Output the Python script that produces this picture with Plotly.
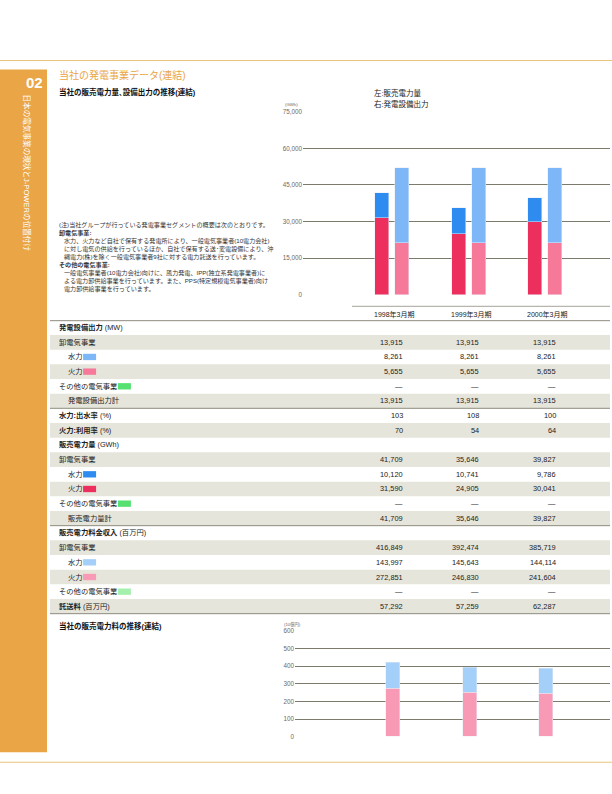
import plotly.graph_objects as go

# ---------------- data ----------------
years = ["1998年3月期", "1999年3月期", "2000年3月期"]

cap_wholesale = [13915, 13915, 13915]
cap_hydro = [8261, 8261, 8261]
cap_thermal = [5655, 5655, 5655]
cap_other = [None, None, None]
cap_total = [13915, 13915, 13915]

hydro_flow_rate = [103, 108, 100]
thermal_util_rate = [70, 54, 64]

sales_wholesale = [41709, 35646, 39827]
sales_hydro = [10120, 10741, 9786]
sales_thermal = [31590, 24905, 30041]
sales_other = [None, None, None]
sales_total = [41709, 35646, 39827]

rev_wholesale = [416849, 392474, 385719]
rev_hydro = [143997, 145643, 144114]
rev_thermal = [272851, 246830, 241604]
rev_other = [None, None, None]
wheeling_fee = [57292, 57259, 62287]

top_ticks = [0, 15000, 30000, 45000, 60000, 75000]
bottom_ticks = [0, 100, 200, 300, 400, 500, 600]

# ---------------- helpers ----------------
W, H = 612, 794
FONT = "Liberation Sans, Noto Sans CJK JP"


def px(x):
    return x / W


def py(y):
    return 1 - y / H


ORANGE = "#E9A546"
LINE_Y = "#E8C47C"
GRID = "#7C7A6A"
BAND = "#E6E5DB"
TLINE = "#8E8C7E"

C_SALES_THERMAL = "#EC2F5C"
C_SALES_HYDRO = "#2E8BF0"
C_CAP_THERMAL = "#F7799A"
C_CAP_HYDRO = "#7DB7F7"
C_REV_THERMAL = "#F899B6"
C_REV_HYDRO = "#A3CFF9"
C_OTHER = "#55E070"
C_OTHER_LIGHT = "#A6F0AE"

fig = go.Figure()

# ---------------- top chart ----------------
bw = 0.185
fig.add_trace(go.Bar(x=years, y=sales_thermal, marker_color=C_SALES_THERMAL,
                     offset=-0.22, width=bw, xaxis="x", yaxis="y", showlegend=False))
fig.add_trace(go.Bar(x=years, y=sales_hydro, marker_color=C_SALES_HYDRO,
                     offset=-0.22, width=bw, xaxis="x", yaxis="y", showlegend=False))
fig.add_trace(go.Bar(x=years, y=cap_thermal, marker_color=C_CAP_THERMAL,
                     offset=0.04, width=bw, xaxis="x", yaxis="y2", showlegend=False))
fig.add_trace(go.Bar(x=years, y=cap_hydro, marker_color=C_CAP_HYDRO,
                     offset=0.04, width=bw, xaxis="x", yaxis="y2", showlegend=False))

# ---------------- bottom chart ----------------
rev_hydro_b = [v / 1000 for v in rev_hydro]
rev_thermal_b = [v / 1000 for v in rev_thermal]
fig.add_trace(go.Bar(x=years, y=rev_thermal_b, marker_color=C_REV_THERMAL,
                     offset=-0.09, width=bw, xaxis="x2", yaxis="y3", showlegend=False))
fig.add_trace(go.Bar(x=years, y=rev_hydro_b, marker_color=C_REV_HYDRO,
                     offset=-0.09, width=bw, xaxis="x2", yaxis="y3", showlegend=False))

shapes = []
ann = []


def text(x, y, s, size=7.5, color="#222", anchor="left", yanchor="middle", angle=0):
    ann.append(dict(x=px(x), y=py(y), xref="paper", yref="paper", text=s, showarrow=False,
                    xanchor=anchor, yanchor=yanchor, textangle=angle,
                    font=dict(family=FONT, size=size, color=color)))


def rect(x0, y0, x1, y1, color):
    shapes.append(dict(type="rect", xref="paper", yref="paper", x0=px(x0), x1=px(x1),
                       y0=py(y1), y1=py(y0), fillcolor=color, line=dict(width=0), layer="below"))


def hline(x0, x1, y, color, w=1):
    shapes.append(dict(type="line", xref="paper", yref="paper", x0=px(x0), x1=px(x1),
                       y0=py(y), y1=py(y), line=dict(color=color, width=w), layer="below"))


# page frame
hline(0, 612, 57, LINE_Y, 1.2)
hline(0, 612, 765, LINE_Y, 1.2)
rect(0, 66, 47, 755, ORANGE)
text(34, 79, "<b>02</b>", size=15, color="white", anchor="center")
ann.append(dict(x=px(27), y=py(170), xref="paper", yref="paper",
                text="日本の電気事業の現状とJ-POWERの位置付け", showarrow=False,
                xanchor="center", yanchor="middle", textangle=90,
                font=dict(family=FONT, size=7.6, color="white")))

# titles
text(57, 72, "当社の発電事業データ(連結)", size=10, color=ORANGE)
text(57, 89, "<b>当社の販売電力量､設備出力の推移(連結)</b>", size=7.5, color="#111")
text(372, 90, "左:販売電力量", size=7.5, color="#222")
text(372, 101, "右:発電設備出力", size=7.5, color="#222")
text(283, 101.5, "(GWh)", size=4.3, color="#666")

# notes
notes = [
    (57, "(注)当社グループが行っている発電事業セグメントの概要は次のとおりです。", False),
    (57, "卸電気事業:", True),
    (62, "水力、火力など自社で保有する発電所により、一般電気事業者(10電力会社)", False),
    (62, "に対し電気の供給を行っているほか、自社で保有する送･変電設備により、沖", False),
    (62, "縄電力(株)を除く一般電気事業者9社に対する電力託送を行っています。", False),
    (57, "その他の電気事業:", True),
    (62, "一般電気事業者(10電力会社)向けに、風力発電、IPP(独立系発電事業者)に", False),
    (62, "よる電力卸供給事業を行っています。また、PPS(特定規模電気事業者)向け", False),
    (62, "電力卸供給事業を行っています。", False),
]
for i, (x, s, b) in enumerate(notes):
    text(x, 223 + 8.1 * i, f"<b>{s}</b>" if b else s, size=6.1, color="#333")

# category header
hline(352, 610, 305, TLINE, 0.8)
for xc, lab in zip([394, 470.5, 546.5], years):
    text(xc, 313, lab, size=7, color="#222", anchor="center")
hline(50, 610, 319.5, TLINE, 1)

# table
def fmt(v):
    return "—" if v is None else f"{v:,}"


rows = [
    ("<b>発電設備出力</b> (MW)", 57, None, None),
    ("卸電気事業", 57, None, cap_wholesale),
    ("水力", 66, C_CAP_HYDRO, cap_hydro),
    ("火力", 66, C_CAP_THERMAL, cap_thermal),
    ("その他の電気事業", 57, C_OTHER, cap_other),
    ("発電設備出力計", 66, None, cap_total),
    ("<b>水力:出水率</b> (%)", 57, None, hydro_flow_rate),
    ("<b>火力:利用率</b> (%)", 57, None, thermal_util_rate),
    ("<b>販売電力量</b> (GWh)", 57, None, None),
    ("卸電気事業", 57, None, sales_wholesale),
    ("水力", 66, C_SALES_HYDRO, sales_hydro),
    ("火力", 66, C_SALES_THERMAL, sales_thermal),
    ("その他の電気事業", 57, C_OTHER, sales_other),
    ("販売電力量計", 66, None, sales_total),
    ("<b>販売電力料金収入</b> (百万円)", 57, None, None),
    ("卸電気事業", 57, None, rev_wholesale),
    ("水力", 66, C_REV_HYDRO, rev_hydro),
    ("火力", 66, C_REV_THERMAL, rev_thermal),
    ("その他の電気事業", 57, C_OTHER_LIGHT, rev_other),
    ("<b>託送料</b> (百万円)", 57, None, wheeling_fee),
]
RH = 14.8
Y0 = 326.5
val_x = [405, 481, 558]
for i, (lab, ix, sw, vals) in enumerate(rows):
    yc = Y0 + RH * i
    if i % 2 == 1:
        rect(50, yc - RH / 2, 610, yc + RH / 2, BAND)
    text(ix, yc, lab, size=7.3, color="#222")
    if sw is not None:
        nch = len(lab)
        sx = ix + nch * 7.3 + 2.5
        rect(sx, yc - 3.2, sx + 13, yc + 3.2, sw)
    if vals is not None:
        for xv, v in zip(val_x, vals):
            text(xv, yc, fmt(v), size=7.4, color="#222", anchor="right")
for i in (5, 13, 19):
    hline(50, 610, Y0 + RH * i + RH / 2, TLINE, 1)

# bottom chart labels
text(57, 628, "<b>当社の販売電力料の推移(連結)</b>", size=7.5, color="#111")
text(282, 626, "(10億円)", size=4.3, color="#666")

fig.update_layout(
    width=W, height=H, margin=dict(l=0, r=0, t=0, b=0),
    paper_bgcolor="white", plot_bgcolor="rgba(0,0,0,0)",
    barmode="stack", bargap=0,
    shapes=shapes, annotations=ann,
    font=dict(family=FONT),
    xaxis=dict(domain=[px(303), px(610)], range=[-1.163, 2.85], showticklabels=False,
               showgrid=False, zeroline=False, showline=False, ticks="", anchor="y",
               categoryorder="array", categoryarray=years),
    yaxis=dict(domain=[py(293.3), py(108.8)], range=[0, 75000], tickvals=top_ticks,
               tickformat=",d", showgrid=True, gridcolor=GRID, gridwidth=1,
               zeroline=False, showline=False, ticks="", anchor="x",
               tickfont=dict(family=FONT, size=6.3, color="#6A6A6A")),
    yaxis2=dict(domain=[py(293.3), py(108.8)], range=[0, 20000], overlaying="y",
                side="right", showgrid=False, showticklabels=False, zeroline=False,
                showline=False, ticks="", anchor="x"),
    xaxis2=dict(domain=[px(295), px(610)], range=[-1.281, 2.837], showticklabels=False,
                showgrid=False, zeroline=False, showline=False, ticks="", anchor="y3",
                categoryorder="array", categoryarray=years),
    yaxis3=dict(domain=[py(739.3), py(632.3)], range=[0, 600], tickvals=bottom_ticks,
                showgrid=True, gridcolor=GRID, gridwidth=1, zeroline=False, showline=False,
                ticks="", anchor="x2",
                tickfont=dict(family=FONT, size=6.3, color="#6A6A6A")),
)

fig.write_html("out.html", config={"displayModeBar": False},
               post_script="document.body.style.margin='0';document.body.style.overflow='hidden';")
